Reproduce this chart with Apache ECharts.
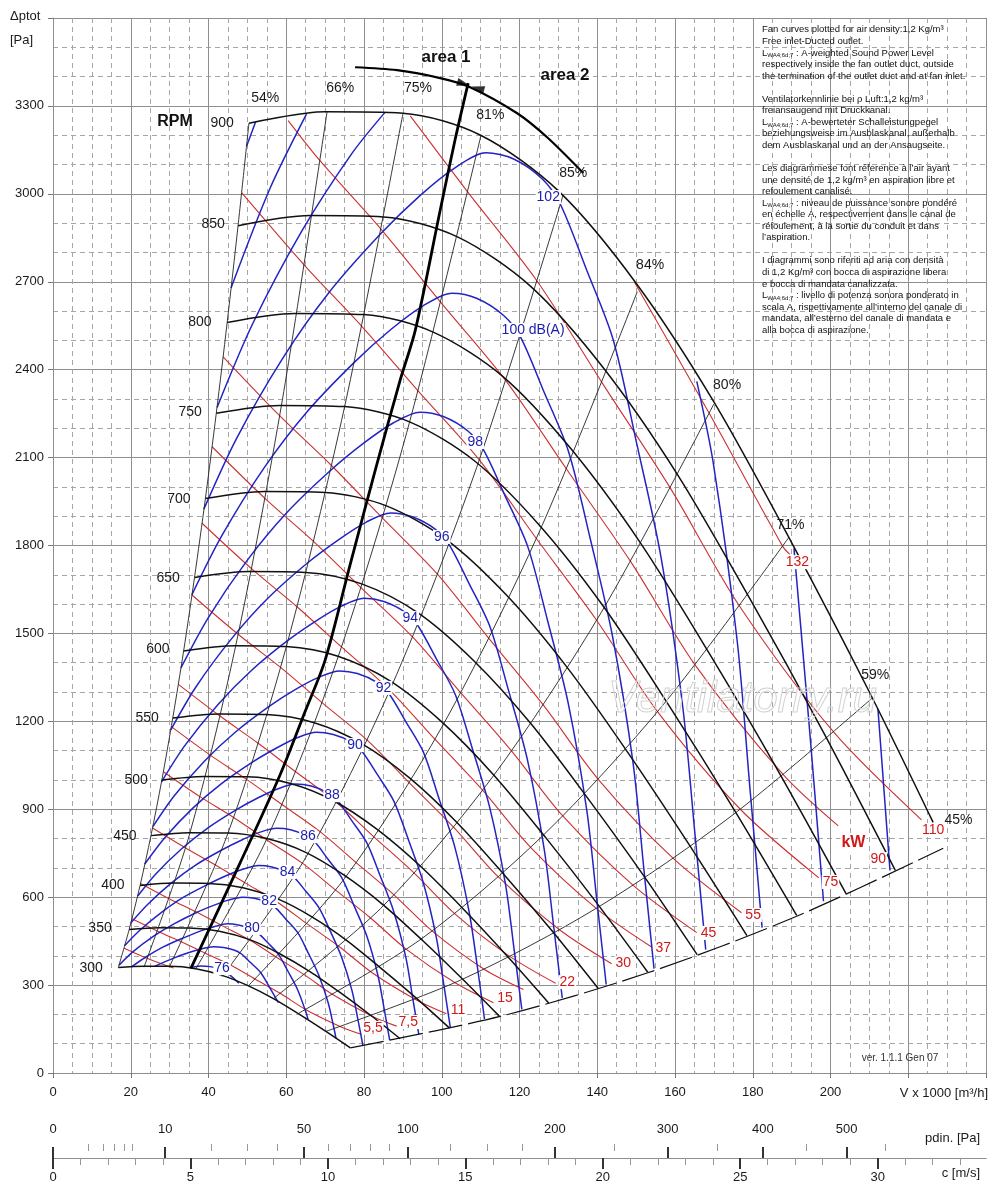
<!DOCTYPE html>
<html><head><meta charset="utf-8">
<script src="https://cdn.jsdelivr.net/npm/echarts@6/dist/echarts.min.js"></script>
<style>html,body{margin:0;padding:0;background:#fff}#c{width:1000px;height:1204px}</style>
</head><body><div id="c"></div>
<script>
// ---------- axis ticks ----------
const xTicksMax = 240, yTicksMax = 3600;
const pdinMajor = [0,10,50,100,200,300,400,500];
const pdinMinor = [1,2,3,4,5,20,30,40,60,70,80,90,125,150,175,250,350,450,550];
const cMajor = [0,5,10,15,20,25,30];
const cMinor = [1,2,3,4,6,7,8,9,11,12,13,14,16,17,18,19,21,22,23,24,26,27,28,29,31,32,33];
const cMax = 33.94; // c [m/s] at V = 240

// ---------- RPM curves (V x1000 m3/h, dptot Pa) ----------
const rpmNames = ['300','350','400','450','500','550','600','650','700','750','800','850','900'];
const rpm300 = [[16.8,360],[23.3,364],[30.0,364],[36.7,356],[43.3,334],[50.0,299],[56.7,254],[63.3,201],[70.0,144],[76.5,86]];
const rpm350 = [[19.6,490],[27.2,496],[35.0,495],[42.8,484],[50.6,455],[58.3,407],[66.1,346],[73.9,274],[81.7,197],[89.3,117]];
const rpm400 = [[22.4,640],[31.1,648],[40.0,647],[48.9,632],[57.8,594],[66.7,532],[75.6,452],[84.4,357],[93.3,257],[102.0,153]];
const rpm450 = [[25.2,810],[35,820],[45,819],[55,800],[65,753],[75,674],[85,573],[95,453],[105,325],[114.8,194]];
const rpm500 = [[28.0,1000],[38.9,1012],[50.0,1011],[61.1,988],[72.2,929],[83.3,832],[94.4,707],[105.6,559],[116.7,401],[127.5,239]];
const rpm550 = [[30.8,1211],[42.8,1225],[55.0,1223],[67.2,1195],[79.4,1124],[91.7,1007],[103.9,855],[116.1,676],[128.3,486],[140.2,289]];
const rpm600 = [[33.6,1440],[46.7,1458],[60.0,1455],[73.3,1422],[86.7,1338],[100.0,1198],[113.3,1018],[126.7,804],[140.0,578],[153.0,344]];
const rpm650 = [[36.4,1691],[50.6,1711],[65.0,1708],[79.4,1669],[93.9,1570],[108.3,1406],[122.8,1194],[137.2,944],[151.7,678],[165.7,404]];
const rpm700 = [[39.2,1960],[54.4,1984],[70.0,1981],[85.6,1936],[101.1,1821],[116.7,1630],[132.2,1385],[147.8,1095],[163.3,786],[178.5,469]];
const rpm750 = [[42.0,2251],[58.3,2278],[75.0,2274],[91.7,2222],[108.3,2090],[125.0,1871],[141.7,1590],[158.3,1257],[175.0,903],[191.3,538]];
const rpm800 = [[44.8,2561],[62.2,2592],[80.0,2588],[97.8,2528],[115.6,2378],[133.3,2129],[151.1,1809],[168.9,1430],[186.7,1027],[204.0,612]];
const rpm850 = [[47.6,2891],[66.1,2926],[85.0,2921],[103.9,2854],[122.8,2685],[141.7,2404],[160.6,2043],[179.4,1615],[198.3,1160],[216.7,691]];
const rpm900 = [[50.4,3241],[70,3280],[90,3275],[110,3200],[130,3010],[150,2695],[170,2290],[190,1810],[210,1300],[226.4,855]];
const rpmLabelPos = [[9.8,358],[12.1,495],[15.4,641],[18.5,809],[21.4,1000],[24.2,1211],[27.0,1447],[29.6,1689],[32.4,1958],[35.3,2255],[37.8,2562],[41.2,2897],[43.5,3241]];

// ---------- efficiency lines ----------
const eff54 = [[16.8,360],[19.6,490],[22.4,640],[25.2,810],[28.0,1000],[30.8,1211],[33.6,1440],[36.4,1691],[39.2,1960],[42.0,2251],[44.8,2561],[47.6,2891],[50.4,3241]];
const eff66 = [[23.4,361],[35,809],[47,1458],[59,2297],[70.5,3280]];
const eff75 = [[29.9,361],[45,818],[60,1454],[75,2273],[90,3272]];
const eff81 = [[36.8,357],[55,799],[73,1407],[91,2186],[110.1,3200]];
const eff85 = [[43.5,329],[65,735],[87,1317],[109,2067],[131.2,2995]];
const eff84 = [[50.2,297],[75,664],[100,1180],[125,1844],[150.3,2666]];
const eff80 = [[56.7,254],[85,571],[113,1009],[141,1571],[170,2283]];
const eff71 = [[63.2,204],[95,460],[126,810],[157,1257],[189.3,1828]];
const eff59 = [[70.2,142],[105,318],[140,564],[175,882],[210.7,1279]];
const eff45 = [[76.5,86],[115,193],[153,342],[191,533],[229,767]];
const effLabels = [['54%',54.6,3326],['66%',73.9,3361],['75%',93.9,3361],['81%',112.5,3268],['85%',133.8,3071],['84%',153.6,2757],['80%',173.4,2347],['71%',189.7,1870],['59%',211.5,1358],['45%',232.9,863]];

// ---------- sound power level curves dB(A) ----------
const db76 = [[35.2,359],[38.0,365],[40.4,363],[43.0,355],[44.6,344],[46.8,319],[47.8,306]];
const db78 = [[26.1,364],[31.2,393],[35.0,411],[38.3,424],[41.3,431],[43.9,428],[46.7,419],[48.4,407],[50.8,377],[53.4,343],[55.6,295],[58.0,240]];
const db80 = [[20.2,362],[23.8,395],[28.5,431],[33.9,463],[38.0,485],[41.6,500],[44.8,509],[47.7,505],[50.7,494],[52.6,480],[55.2,445],[58.0,405],[60.4,348],[62.9,285],[65.2,202],[65.6,182]];
const db82 = [[17.0,368],[20.6,414],[25.8,466],[31.0,508],[36.8,547],[41.3,572],[45.1,590],[48.7,600],[51.8,596],[55.1,583],[57.1,566],[59.9,525],[63.0,478],[65.6,411],[68.3,336],[70.8,239],[72.2,157],[72.8,118]];
const db84 = [[18.4,434],[22.4,488],[28.0,549],[33.6,600],[40.0,645],[44.8,675],[49.0,696],[52.9,708],[56.3,703],[59.8,687],[62.0,668],[65.1,619],[68.4,564],[71.3,485],[74.2,397],[76.9,282],[78.4,185],[79.7,95]];
const db86 = [[20.0,512],[24.4,576],[30.4,648],[36.5,708],[43.4,761],[48.7,796],[53.3,822],[57.5,835],[61.1,830],[65.0,811],[67.4,788],[70.7,730],[74.3,666],[77.4,572],[80.7,468],[83.6,332],[85.2,218],[86.6,112]];
const db88 = [[21.8,604],[26.5,680],[33.1,765],[39.7,835],[47.1,898],[52.9,940],[57.9,970],[62.4,986],[66.4,979],[70.6,957],[73.2,930],[76.8,862],[80.7,786],[84.1,675],[87.6,553],[90.8,392],[92.5,258],[94.1,132]];
const db90 = [[23.6,713],[28.7,802],[35.9,903],[43.1,985],[51.2,1060],[57.5,1109],[62.8,1144],[67.8,1163],[72.1,1155],[76.7,1130],[79.5,1097],[83.5,1017],[87.7,927],[91.4,797],[95.2,652],[98.6,463],[100.5,304],[102.2,156]];
const db92 = [[25.7,841],[31.2,946],[39.0,1065],[46.8,1162],[55.6,1251],[62.4,1309],[68.3,1350],[73.7,1372],[78.3,1363],[83.3,1333],[86.4,1295],[90.7,1200],[95.3,1094],[99.2,940],[103.4,769],[107.1,546],[109.2,359],[111.0,184]];
const db94 = [[27.9,993],[33.9,1117],[42.4,1257],[50.9,1372],[60.4,1476],[67.8,1544],[74.2,1593],[80.0,1620],[85.1,1609],[90.5,1573],[93.8,1528],[98.5,1416],[103.5,1291],[107.8,1110],[112.3,908],[116.4,644],[118.6,423],[120.6,217]];
const db96 = [[30.3,1171],[36.8,1318],[46.0,1483],[55.2,1619],[65.6,1742],[73.7,1822],[80.6,1880],[86.9,1911],[92.4,1898],[98.3,1856],[101.9,1803],[107.0,1671],[112.4,1523],[117.1,1309],[122.0,1071],[126.4,760],[128.8,499],[131.0,256]];
const db98 = [[32.9,1382],[40,1555],[50,1750],[60,1910],[71.3,2055],[80,2150],[87.5,2218],[94.4,2255],[100.4,2240],[106.8,2190],[110.7,2127],[116.2,1972],[122.1,1797],[127.2,1545],[132.5,1264],[137.3,897],[139.9,589],[142.3,302]];
const db100 = [[35.7,1631],[43.5,1835],[54.3,2065],[65.2,2254],[77.5,2425],[86.9,2537],[95.1,2617],[102.6,2661],[109.1,2643],[116.0,2584],[120.3,2510],[126.2,2327],[132.6,2121],[138.2,1823],[143.9,1492],[149.2,1059],[152.0,695],[154.6,356]];
const db102 = [[38.8,1924],[47.2,2165],[59.0,2437],[70.8,2660],[84.1,2861],[94.4,2994],[103.3,3088],[111.4,3140],[118.5,3119],[126.0,3049],[130.6,2962],[137.1,2746],[144.1,2502],[150.1,2151],[156.4,1760],[162.0,1249],[165.1,820],[167.9,421]];
const db104a = [[42.2,2271],[51.3,2555],[64.1,2875],[76.9,3138],[85.4,3278]];
const db104b = [[165.6,2360],[169.9,2077],[176.0,1474],[179.3,968],[182.4,496]];
const db106a = [[45.8,2679],[55.7,3015],[65.2,3272]];
const db106b = [[190.6,1790],[194.8,1142],[198.2,586]];
const db108a = [[49.8,3162],[52.1,3245]];
const db108b = [[212.2,1243],[215.3,691]];
const dbLabels = [['76',43.5,358],['80',51.2,495],['82',55.6,587],['84',60.3,686],['86',65.6,808],['88',71.8,948],['90',77.7,1119],['92',85,1314],['94',91.9,1552],['96',100,1829],['98',108.6,2153],['100 dB(A)',123.5,2535],['102',127.4,2989]];

// ---------- shaft power lines kW ----------
const kw4 = [[18.3,426],[24.3,391],[31,358]];
const kw5_5 = [[20.3,526],[27.05,483],[33.24,446],[39.32,408],[45.9,367],[52.05,320],[58.54,271],[65.05,216],[74,158],[79.3,132]];
const kw7_5 = [[22.52,647],[30,594],[36.87,549],[43.59,502],[50.9,451],[57.71,393],[64.9,333],[72.16,266],[82.07,194],[88.4,160]];
const kw11 = [[25.6,836],[34.1,768],[41.9,709],[49.53,648],[57.84,582],[65.57,507],[73.74,430],[82,343],[93.26,251],[101.2,202]];
const kw15 = [[28.38,1028],[37.8,943],[46.46,872],[54.92,796],[64.14,716],[72.72,624],[81.76,528],[90.91,422],[103.43,308],[113.3,240]];
const kw18_5 = [[30.43,1182],[40.53,1084],[49.81,1002],[58.9,916],[68.77,823],[77.98,718],[87.7,608],[97.51,485],[110.9,354],[121,285]];
const kw22 = [[32.24,1326],[42.95,1218],[52.77,1125],[62.41,1028],[72.87,924],[82.61,805],[92.92,682],[103.31,544],[117.5,398],[129.3,306]];
const kw30 = [[35.75,1631],[47.62,1497],[58.53,1384],[69.19,1264],[80.81,1136],[91.62,991],[103.03,839],[114.56,669],[130.3,489],[143.7,373]];
const kw37 = [[38.34,1876],[51.06,1721],[62.76,1591],[74.2,1454],[86.65,1306],[98.24,1139],[110.5,965],[122.85,770],[139.74,562],[154,430]];
const kw45 = [[40.92,2137],[54.51,1961],[67,1814],[79.21,1656],[92.48,1488],[104.87,1298],[117.93,1099],[131.14,877],[149.17,641],[165.6,479]];
const kw55 = [[43.76,2444],[58.29,2243],[71.63,2073],[84.7,1894],[98.89,1702],[112.12,1483],[126.1,1256],[140.2,1003],[159.48,733],[177.1,547]];
const kw75 = [[48.52,3004],[64.63,2757],[79.42,2548],[93.91,2328],[109.66,2092],[124.33,1824],[139.83,1545],[155.5,1233],[176.8,900],[197,666]];
const kw90 = [[60.5,3250],[68.68,3113],[84.41,2879],[99.8,2629],[116.52,2362],[132.13,2060],[148.6,1745],[165.2,1392],[187.9,1017],[202,843]];
const kw110 = [[91.9,3266],[106.7,3006],[124.6,2701],[141.26,2355],[158.88,1994],[176.66,1592],[200.9,1162],[223.4,864]];
const kw132 = [[149.5,2700],[168.8,2251],[187.7,1797],[189.5,1770]];
const kwLabels = [['5,5',82.3,154],['7,5',91.4,174],['11',104.2,215],['15',116.3,256],['22',132.3,310],['30',146.7,375],['37',157,426],['45',168.6,478],['55',180.1,539],['75',200,652],['90',212.3,730],['110',226.4,829],['132',191.5,1743]];

// ---------- area boundary & arrow ----------
const areaLine = [[35.5,358],[48.1,716],[58.4,1017],[64.8,1232],[70.0,1409],[76.4,1733],[82.9,2057],[89.3,2364],[93.2,2535],[99.6,2944],[103.4,3183],[106.8,3378]];
const areaArrow = [[77.7,3432],[88.5,3422],[99.6,3395],[107.3,3364],[119.4,3275],[127.1,3193],[136.4,3071]];

// ---------- build ----------
const FONT = '"Liberation Sans", Arial, Helvetica, sans-serif';
const BLUE = '#2424c4', RED = '#cc3030', BLACK = '#111';
const BLUE_TXT = '#1c1cb0', RED_TXT = '#d01818';
function L(data, color, width, extra) {
  return Object.assign({type:'line', data: data, xAxisIndex:0, yAxisIndex:0, symbol:'none', showSymbol:false,
    smooth:0.3, silent:true, animation:false, lineStyle:{color:color, width:width}, z:2}, extra || {});
}
function labels(list, color, size, bg, weight) {
  return {type:'scatter', xAxisIndex:0, yAxisIndex:0, symbolSize:1, silent:true, animation:false, z:6,
    itemStyle:{color:color, opacity:0},
    data: list.map(d => ({name:d[0], value:[d[1], d[2]]})),
    label:{show:true, position:'inside', formatter:'{b}', color:color, opacity:1, fontSize:size, fontFamily:FONT,
      textBorderWidth:0, fontWeight: weight || 'normal', backgroundColor: bg ? '#fff' : 'transparent', padding: bg ? [0,1] : 0}};
}

const series = [];
[kw4,kw5_5,kw7_5,kw11,kw15,kw18_5,kw22,kw30,kw37,kw45,kw55,kw75,kw90,kw110,kw132].forEach(d => series.push(L(d, RED, 1.1)));
[db76,db78,db80,db82,db84,db86,db88,db90,db92,db94,db96,db98,db100,db102,db104a,db104b,db106a,db106b,db108a,db108b].forEach(d => series.push(L(d, BLUE, 1.5)));
[eff54,eff66,eff75,eff81,eff85,eff84,eff80,eff71,eff59].forEach(d => series.push(L(d, '#222', 0.9)));
series.push(L(eff45, BLACK, 1.2, {lineStyle:{color:BLACK, width:1.2, type:[34,6]}}));
[rpm300,rpm350,rpm400,rpm450,rpm500,rpm550,rpm600,rpm650,rpm700,rpm750,rpm800,rpm850,rpm900].forEach(d => series.push(L(d, BLACK, 1.5)));
series.push(L(areaLine, '#000', 2.8, {z:3}));
series.push(L(areaArrow, '#000', 2.2, {z:3}));
series.push({type:'scatter', xAxisIndex:0, yAxisIndex:0, silent:true, animation:false, z:4, symbol:'triangle',
  itemStyle:{color:'#000'},
  data:[{value:[105.6,3376], symbolRotate:-106, symbolSize:[8,13]}, {value:[109.3,3360], symbolRotate:74, symbolSize:[8,13]}]});
series.push(labels(dbLabels, BLUE_TXT, 14, true));
series.push(labels(kwLabels, RED_TXT, 14, true));
series.push(labels([['kW',205.9,785]], RED_TXT, 16, true, 'bold'));
series.push(labels(effLabels, '#1a1a1a', 14, false));
series.push(labels(rpmNames.map((n,i) => [n, rpmLabelPos[i][0], rpmLabelPos[i][1]]), '#1a1a1a', 14, false));
series.push(labels([['RPM',31.4,3245]], '#111', 16, false, 'bold'));

const gridLineSolid = {show:true, lineStyle:{color:'#8e8e8e', width:1}};
const gridLineDash = {show:true, lineStyle:{color:'#a6a6a6', width:1, type:[5,4]}};
const cOf = p => Math.sqrt(p / 0.6);

const option = {
  animation:false,
  backgroundColor:'#fff',
  grid:[{left:53, right:14, top:18, bottom:131}, {left:53, right:14, top:1151, height:7}],
  xAxis:[
    {gridIndex:0, type:'value', min:0, max:xTicksMax, interval:20,
      axisLine:{show:true, lineStyle:{color:'#8e8e8e'}},
      axisTick:{show:true, length:5, lineStyle:{color:'#777'}},
      axisLabel:{margin:13, fontSize:13, color:'#1a1a1a', fontFamily:FONT, formatter: v => v > 200 ? '' : String(v)},
      splitLine:gridLineSolid, minorTick:{show:false, splitNumber:4}, minorSplitLine:gridLineDash},
    {gridIndex:1, type:'value', position:'top', min:0, max:cMax,
      axisLine:{show:true, lineStyle:{color:'#8e8e8e'}},
      axisTick:{show:true, customValues:pdinMajor.map(cOf), length:11, lineStyle:{color:'#333', width:2}},
      axisLabel:{show:true, customValues:pdinMajor.map(cOf), margin:15, fontSize:13, color:'#1a1a1a', fontFamily:FONT,
        formatter: v => String(Math.round(0.6 * v * v))},
      splitLine:{show:false}},
    {gridIndex:1, type:'value', position:'top', min:0, max:cMax,
      axisLine:{show:false},
      axisTick:{show:true, customValues:pdinMinor.map(cOf), length:7, lineStyle:{color:'#999', width:1}},
      axisLabel:{show:false}, splitLine:{show:false}},
    {gridIndex:1, type:'value', position:'bottom', min:0, max:cMax,
      axisLine:{show:true, lineStyle:{color:'#8e8e8e'}},
      axisTick:{show:true, customValues:cMajor, length:11, lineStyle:{color:'#333', width:2}},
      axisLabel:{show:true, customValues:cMajor, margin:13, fontSize:13, color:'#1a1a1a', fontFamily:FONT},
      splitLine:{show:false}},
    {gridIndex:1, type:'value', position:'bottom', min:0, max:cMax,
      axisLine:{show:false},
      axisTick:{show:true, customValues:cMinor, length:7, lineStyle:{color:'#999', width:1}},
      axisLabel:{show:false}, splitLine:{show:false}}
  ],
  yAxis:[
    {gridIndex:0, type:'value', min:0, max:yTicksMax, interval:300,
      axisLine:{show:true, lineStyle:{color:'#8e8e8e'}},
      axisTick:{show:true, length:5, lineStyle:{color:'#777'}},
      axisLabel:{margin:9, fontSize:13, color:'#1a1a1a', fontFamily:FONT, formatter: v => v >= 3600 ? '' : String(v)},
      splitLine:gridLineSolid, minorTick:{show:false, splitNumber:3}, minorSplitLine:gridLineDash},
    {gridIndex:1, type:'value', min:0, max:1, show:false}
  ],
  graphic:[
    {type:'text', left:10, top:10, style:{text:'Δptot', font:'13px ' + FONT, fill:'#1a1a1a'}},
    {type:'text', left:10, top:34, style:{text:'[Pa]', font:'13px ' + FONT, fill:'#1a1a1a'}},
    {type:'text', z:50, style:{x:446, y:57, text:'area 1', align:'center', verticalAlign:'middle', font:'bold 17px ' + FONT, fill:'#111'}},
    {type:'text', z:50, style:{x:565, y:75, text:'area 2', align:'center', verticalAlign:'middle', font:'bold 17px ' + FONT, fill:'#111'}},
    {type:'text', z:50, style:{x:988, y:1093, text:'V x 1000 [m³/h]', align:'right', verticalAlign:'middle', font:'13px ' + FONT, fill:'#1a1a1a'}},
    {type:'text', z:50, style:{x:980, y:1138, text:'pdin. [Pa]', align:'right', verticalAlign:'middle', font:'13px ' + FONT, fill:'#1a1a1a'}},
    {type:'text', z:50, style:{x:980, y:1173, text:'c [m/s]', align:'right', verticalAlign:'middle', font:'13px ' + FONT, fill:'#1a1a1a'}},
    {type:'text', z:50, style:{x:900, y:1058, text:'ver. 1.1.1 Gen 07', align:'center', verticalAlign:'middle', font:'10px ' + FONT, fill:'#333'}},
    {type:'text', z:40, style:{x:608, y:700, text:'Ventilatorry.ru', verticalAlign:'middle', font:'italic 44px ' + FONT, fill:'rgba(255,255,255,0)', stroke:'#d2d2d2', lineWidth:1}},
    {type:'text', z:50, style:{x:762, y:24, font:'9.5px ' + FONT, fill:'#111', lineHeight:11.55,
      text:[
        'Fan curves plotted for air density:1,2 Kg/m³',
        'Free inlet-Ducted outlet.',
        'L{s|WA4;6d;7} : A-weighted Sound Power Level',
        'respectively inside the fan outlet duct, outside',
        'the termination of the outlet duct and at fan inlet.',
        ' ',
        'Ventilatorkennlinie bei ρ Luft:1,2 kg/m³',
        'freiansaugend mit Druckkanal.',
        'L{s|WA4;6d;7} : A-bewerteter Schalleistungpegel',
        'beziehungsweise im Ausblaskanal, außerhalb',
        'dem Ausblaskanal und an der Ansaugseite.',
        ' ',
        'Les diagrammese font réference à l’air ayant',
        'une densité de 1,2 kg/m³ en aspiration libre et',
        'refoulement canalisé.',
        'L{s|WA4;6d;7} : niveau de puissance sonore pondéré',
        'en échelle A, respectivement dans le canal de',
        'réfoulement, à la sortie du conduit et dans',
        'l’aspiration.',
        ' ',
        'I diagrammi sono riferiti ad aria con densità',
        'di 1,2 Kg/m³ con bocca di aspirazione libera',
        'e bocca di mandata canalizzata.',
        'L{s|WA4;6d;7} : livello di potenza sonora ponderato in',
        'scala A, rispettivamente all’interno del canale di',
        'mandata, all’esterno del canale di mandata e',
        'alla bocca di aspirazione.'
      ].join('\n'),
      rich:{s:{fontSize:6, fontFamily:'"Liberation Sans", Arial, sans-serif', lineHeight:11.55, verticalAlign:'bottom', fill:'#111'}}}}
  ],
  series: series
};
const chart = echarts.init(document.getElementById('c'), null, {renderer:'canvas'});
chart.setOption(option);
</script>
</body></html>
